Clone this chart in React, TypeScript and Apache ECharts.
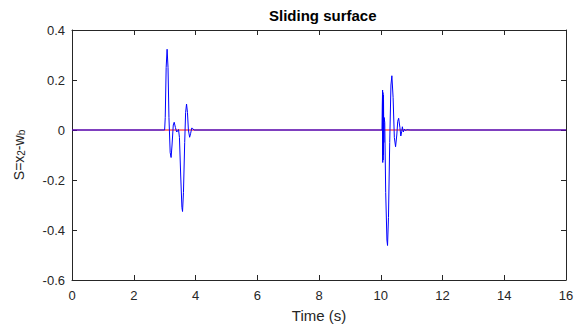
import React, { useEffect, useRef } from "react";
import * as echarts from "echarts";

const timeS: number[] = [
  0, 3.0, 3.02, 3.05, 3.08, 3.11, 3.14, 3.18, 3.21, 3.24, 3.28, 3.31, 3.35, 3.39, 3.42, 3.45,
  3.48, 3.52, 3.56, 3.58, 3.61, 3.65, 3.68, 3.71, 3.74, 3.77, 3.81, 3.84, 3.88, 3.91, 3.95,
  10.04, 10.05, 10.06, 10.065, 10.07, 10.075, 10.08, 10.085, 10.09, 10.1, 10.11, 10.13,
  10.16, 10.2, 10.22, 10.25, 10.29, 10.33, 10.36, 10.4, 10.44, 10.48, 10.52, 10.55, 10.58,
  10.62, 10.65, 10.68, 10.7, 10.73, 10.77, 10.8, 10.85, 10.95, 16,
];
const slidingS: number[] = [
  0, 0, 0.05, 0.25, 0.323, 0.25, 0.05, -0.09, -0.11, -0.06, 0.02, 0.031, 0.01, -0.008, -0.004, 0.002,
  -0.03, -0.18, -0.31, -0.326, -0.25, -0.05, 0.07, 0.104, 0.07, 0.0, -0.029, -0.015, 0.008, 0.006, 0,
  0, 0.1, 0.16, -0.13, 0.15, -0.12, 0.14, -0.1, 0.12, -0.05, 0.05, 0.03,
  -0.25, -0.44, -0.462, -0.35, -0.05, 0.18, 0.217, 0.13, -0.03, -0.067, -0.02, 0.035, 0.047,
  0.01, -0.024, -0.005, 0.013, -0.008, 0.004, -0.002, 0.001, 0, 0,
];
const refTime: number[] = [0, 16];
const refS: number[] = [0, 0];

const xTicks = { min: 0, max: 16, interval: 2 };
const yTicks = { min: -0.6, max: 0.4, interval: 0.2 };

const AX = "#262626";
const FONT = "Liberation Sans, Arial, sans-serif";

export default function App() {
  const ref = useRef<HTMLDivElement>(null);
  useEffect(() => {
    if (!ref.current) return;
    const chart = echarts.init(ref.current, undefined, { renderer: "svg" });
    const axisCommon = {
      axisLine: { show: true, onZero: false, lineStyle: { color: AX, width: 1 } },
      axisTick: { show: true, inside: true, length: 5, lineStyle: { color: AX } },
      splitLine: { show: false },
    };
    chart.setOption({
      animation: false,
      backgroundColor: "#ffffff",
      title: {
        text: "Sliding surface",
        left: 264,
        top: 3,
        textStyle: { fontFamily: FONT, fontWeight: "bold", fontSize: 15, color: "#000" },
      },
      grid: { left: 72, right: 19, top: 30, bottom: 46, outerBoundsMode: "none", containLabel: false },
      xAxis: [
        {
          type: "value",
          position: "bottom",
          ...xTicks,
          ...axisCommon,
          name: "Time (s)",
          nameLocation: "middle",
          nameGap: 28,
          nameTextStyle: { fontFamily: FONT, fontSize: 15, color: AX },
          axisLabel: { margin: 9, fontFamily: FONT, fontSize: 13, color: AX },
        },
        {
          type: "value",
          position: "top",
          ...xTicks,
          ...axisCommon,
          axisLabel: { show: false },
        },
      ],
      yAxis: [
        {
          type: "value",
          position: "left",
          ...yTicks,
          ...axisCommon,
          name: "{n|S=x}{s|2}{n|-w}{s|b}",
          nameLocation: "middle",
          nameGap: 38,
          nameTextStyle: {
            rich: {
              n: { fontFamily: FONT, fontSize: 14, color: AX, lineHeight: 15, padding: [0, 0, 6, 0], verticalAlign: "top" },
              s: { fontFamily: FONT, fontSize: 10, color: AX, lineHeight: 10, verticalAlign: "bottom" },
            },
          },
          axisLabel: {
            margin: 7,
            fontFamily: FONT,
            fontSize: 13,
            color: AX,
            formatter: (v: number) => String(Math.round(v * 10) / 10),
          },
        },
        {
          type: "value",
          position: "right",
          ...yTicks,
          ...axisCommon,
          axisLabel: { show: false },
        },
      ],
      series: [
        {
          type: "line",
          xAxisIndex: 0,
          yAxisIndex: 0,
          data: refTime.map((t, i) => [t, refS[i]]),
          showSymbol: false,
          lineStyle: { color: "#ff0000", width: 1 },
        },
        {
          type: "line",
          xAxisIndex: 0,
          yAxisIndex: 0,
          data: timeS.map((t, i) => [t, slidingS[i]]),
          showSymbol: false,
          lineStyle: { color: "#0000ff", width: 1 },
        },
      ],
    });
    return () => chart.dispose();
  }, []);
  return (
    <div
      ref={ref}
      style={{ position: "absolute", left: 0, top: 0, width: 585, height: 326, background: "#fff" }}
    />
  );
}
